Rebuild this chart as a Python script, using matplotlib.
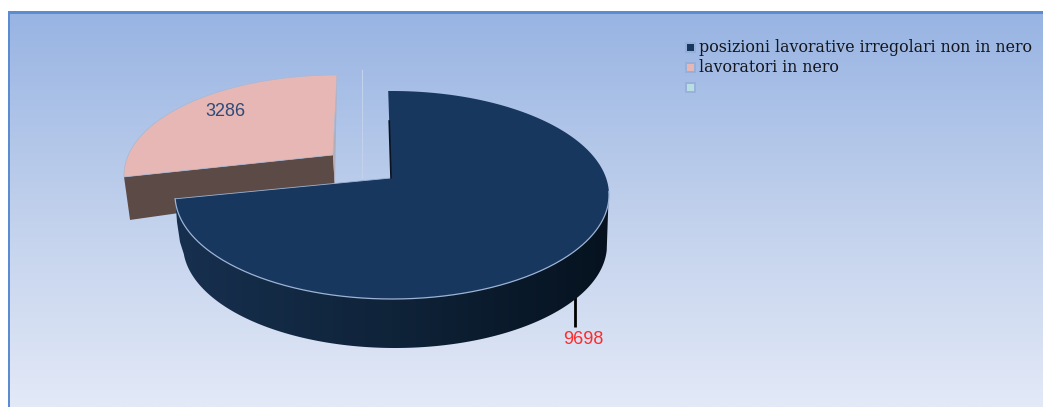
import numpy as np
import matplotlib.pyplot as plt
from matplotlib.colors import LinearSegmentedColormap
from matplotlib.patches import Polygon, Rectangle

# chart data
categories = ["posizioni lavorative irregolari non in nero", "lavoratori in nero", ""]
values = [9698, 3286, 0]
slice_colors = ["#17375e", "#e6b7b4", "#b9dfe3"]
label_colors = ["#ff2a2a", "#2f4a78"]

W, H = 1043, 407
fig = plt.figure(figsize=(W / 100, H / 100), dpi=100, facecolor="white")
ax = fig.add_axes([0, 0, 1, 1])

# background gradient and blue frame
bg = LinearSegmentedColormap.from_list("bg", ["#98b4e3", "#c0d0ec", "#e3e9f7"])
ax.imshow(np.linspace(0, 1, 256).reshape(-1, 1), cmap=bg, aspect="auto",
          extent=[9, W, H, 12], zorder=0)
ax.add_patch(Rectangle((7.5, 11), W - 7.5, 2.5, fc="#5b8bd0", ec="none", zorder=1))
ax.add_patch(Rectangle((7.5, 11), 2.5, H - 11, fc="#5b8bd0", ec="none", zorder=1))

# angle of each slice, clockwise from the top of the pie
total = sum(values)
big_sweep = 360 * values[0] / total
start = 91
t_big = np.radians(start - np.linspace(0, big_sweep, 300))
t_small = np.radians(90 - np.linspace(big_sweep, 360, 120))


def rim(t, cx, cy, a, b):
    return cx + a * np.cos(t), cy - b * np.sin(t)


# small slice, pulled away from the big one
sx, sy = rim(t_small, 337, 175, 213, 100)
apex_small = (333, 155)
ax.add_patch(Polygon([(sx[0], sy[0]), (sx[0] + 6, sy[0] + 43), (apex_small[0] + 2, apex_small[1] + 36),
                      apex_small], fc="#5c4a47", ec="none", zorder=2))
ax.add_patch(Polygon([(sx[-1], sy[-1]), (sx[-1] - 2, 185), (apex_small[0] + 2, apex_small[1] + 36),
                      apex_small], fc="#b3aeb8", ec="none", zorder=2))
ax.add_patch(Polygon(list(zip(sx, sy)) + [apex_small], fc=slice_colors[1], ec="#a9b8d2", lw=0.5, zorder=3))

# thin light line behind the gap
ax.plot([362, 362], [70, 178], color="#c3d2ec", lw=0.8, zorder=1)

# leader line starts under the wall
ax.plot([575, 575], [295, 327], color="black", lw=2, solid_capstyle="butt", zorder=3.5)

# big slice: outer wall, shaded from left to right
# the lower rim is a slightly narrower ellipse than the top face
bx, by = rim(t_big, 392, 195, 217, 104)
low = by >= 190
t_low = np.radians(np.linspace(3, 175, 200))
lx, ly = rim(t_low, 395, 245, 212, -103)
wall = (list(zip(bx[low], by[low] - 2)) + [(177, 222), (180, 242)]
        + list(zip(lx[::-1], ly[::-1])))
wall_cmap = LinearSegmentedColormap.from_list("wall", ["#17304f", "#0f2339", "#06121f"])
grad = ax.imshow(np.linspace(0, 1, 256).reshape(1, -1), cmap=wall_cmap, aspect="auto",
                 extent=[bx.min(), bx.max(), 350, 185], zorder=4)
clip = Polygon(wall, transform=ax.transData, fc="none", ec="none")
ax.add_patch(clip)
grad.set_clip_path(clip)

# big slice: top face, then its light rim
apex = (391, 178)
ax.add_patch(Polygon(list(zip(bx, by)) + [apex], fc=slice_colors[0], ec="none", zorder=5))
ax.plot(bx[low], by[low], color="#9db4d6", lw=0.9, zorder=5.5)
ax.plot([bx[-1], apex[0]], [by[-1], apex[1]], color="#9db4d6", lw=0.6, zorder=5.5)
ax.plot([bx[0] + 1, apex[0]], [by[0] + 30, apex[1]], color="#0a1420", lw=1.2, zorder=6)

# value labels
ax.text(583, 339, str(values[0]), color=label_colors[0], fontsize=13, ha="center", va="center",
        family="Liberation Sans", zorder=7)
ax.text(225, 111, str(values[1]), color=label_colors[1], fontsize=13, ha="center", va="center",
        family="Liberation Sans", zorder=7)

# legend
for name, color, y in zip(categories, slice_colors, [48, 68, 88]):
    ax.add_patch(Rectangle((685, y - 6), 11, 11, fc="#8fa9d4", ec="none", alpha=0.6, zorder=6))
    ax.add_patch(Rectangle((687, y - 4), 7, 7, fc=color, ec="none", zorder=7))
    if name:
        ax.text(699, y - 0.5, name, fontsize=11.4, color="#14161c", family="DejaVu Serif",
                ha="left", va="center", zorder=7)

ax.set_xlim(0, W)
ax.set_ylim(H, 0)
ax.axis("off")

fig.savefig("out.png", dpi=100)
